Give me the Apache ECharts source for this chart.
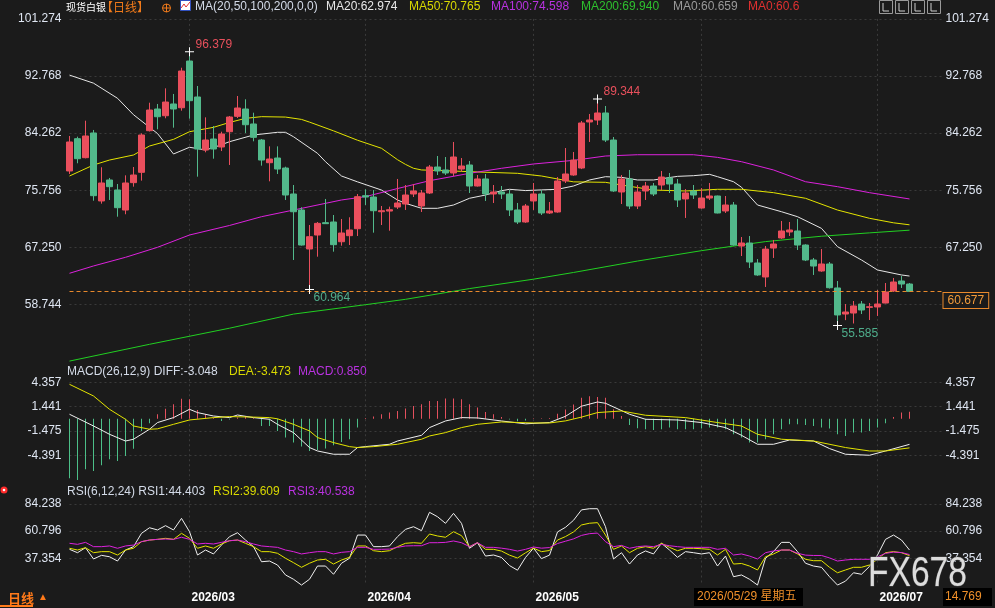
<!DOCTYPE html>
<html>
<head>
<meta charset="utf-8">
<style>
  html, body { margin: 0; padding: 0; background: #1b1b1b; }
  #chart { width: 995px; height: 608px; }
</style>
<script src="https://cdn.jsdelivr.net/npm/echarts@6/dist/echarts.min.js"></script>
</head>
<body>
<div id="chart"></div>
<script>
// candles: [open, close, low, high]
var candles = [
  [78.62, 82.94, 78.17, 83.83], [83.43, 80.45, 79.77, 83.73], [80.60, 83.83, 80.50, 86.11], [84.28, 74.94, 74.19, 84.73],
  [74.15, 76.83, 73.75, 79.17], [77.28, 76.28, 74.30, 77.58], [75.79, 73.15, 71.81, 76.68], [72.80, 76.83, 72.17, 77.97],
  [76.88, 78.02, 76.28, 79.21], [78.42, 83.98, 77.18, 84.23], [84.62, 87.70, 84.50, 88.79], [87.85, 86.70, 84.83, 88.60],
  [86.85, 88.89, 86.47, 90.93], [88.60, 87.85, 85.07, 90.09], [88.04, 93.51, 87.60, 94.00], [95.00, 89.09, 86.41, 96.379],
  [89.64, 81.89, 77.77, 91.28], [81.74, 83.23, 81.40, 86.61], [83.38, 81.89, 80.45, 85.32], [82.19, 84.13, 81.59, 84.47],
  [84.47, 86.66, 79.51, 86.81], [86.76, 88.00, 86.51, 89.79], [87.85, 85.51, 84.28, 89.30], [85.62, 83.63, 83.04, 87.30],
  [83.23, 80.25, 79.41, 83.38], [79.85, 80.40, 77.08, 82.29], [80.55, 78.91, 78.17, 82.29], [79.06, 75.04, 74.30, 79.26],
  [75.19, 72.55, 65.36, 76.53], [72.81, 67.59, 67.50, 73.21], [67.00, 68.83, 60.964, 70.57], [69.08, 70.82, 65.85, 71.02],
  [70.92, 70.77, 70.72, 74.45], [71.02, 67.64, 66.60, 72.06], [68.08, 69.38, 67.49, 71.47], [68.98, 69.83, 67.59, 71.72],
  [70.02, 74.79, 68.93, 75.19], [74.94, 74.74, 73.55, 75.89], [74.74, 72.70, 69.43, 75.78], [72.55, 72.70, 70.57, 73.40],
  [72.65, 72.85, 69.72, 73.30], [73.25, 73.85, 72.95, 77.43], [73.70, 75.04, 72.81, 76.53], [75.19, 75.64, 74.74, 76.68],
  [73.40, 75.34, 72.51, 75.78], [75.34, 79.21, 75.19, 79.51], [79.21, 78.62, 78.02, 80.85], [78.77, 78.32, 78.02, 80.70],
  [78.32, 80.70, 77.87, 82.94], [78.91, 79.36, 78.47, 80.55], [79.51, 76.38, 75.34, 80.11], [76.38, 77.43, 76.30, 78.02],
  [77.43, 75.19, 74.15, 78.17], [75.19, 75.49, 73.85, 76.53], [75.49, 75.19, 74.45, 76.38], [75.19, 72.81, 71.91, 75.78],
  [72.81, 71.02, 70.72, 73.85], [71.02, 73.40, 70.90, 73.70], [74.15, 75.19, 72.81, 76.83], [75.19, 72.36, 72.06, 75.78],
  [72.36, 72.66, 72.21, 74.00], [72.51, 77.13, 72.40, 77.72], [77.13, 78.17, 76.83, 82.04], [78.02, 80.25, 77.90, 81.45],
  [79.06, 85.77, 78.90, 86.06], [85.92, 86.21, 82.94, 87.11], [86.21, 87.26, 85.47, 89.344], [87.26, 83.23, 82.94, 88.30],
  [83.23, 75.64, 75.50, 83.68], [75.49, 77.43, 73.70, 78.02], [77.43, 73.40, 72.95, 78.77], [73.40, 75.49, 72.95, 76.53],
  [75.64, 76.38, 74.30, 76.98], [76.38, 75.19, 74.89, 76.83], [76.53, 77.72, 75.79, 78.62], [77.58, 76.68, 75.34, 78.32],
  [76.68, 74.30, 73.25, 77.43], [74.45, 75.34, 71.62, 75.93], [75.64, 75.04, 74.45, 76.53], [73.10, 74.59, 73.00, 76.08],
  [74.59, 74.89, 74.30, 76.83], [74.89, 72.36, 72.30, 74.95], [72.66, 73.55, 72.36, 74.89], [73.55, 67.59, 67.50, 74.00],
  [67.44, 67.89, 65.95, 68.78], [67.89, 65.06, 64.17, 68.93], [64.91, 63.13, 63.00, 65.50], [62.83, 66.98, 61.34, 67.44],
  [67.14, 67.74, 65.66, 68.34], [68.64, 69.68, 68.50, 71.17], [69.53, 69.83, 68.93, 71.02], [69.68, 67.59, 66.85, 71.47],
  [67.59, 65.36, 65.20, 67.70], [65.36, 64.46, 63.13, 65.66], [63.72, 64.76, 63.60, 66.99], [64.76, 61.23, 61.10, 65.06],
  [61.19, 57.17, 55.585, 62.23], [57.31, 57.61, 56.40, 58.80], [57.46, 58.51, 55.90, 59.25], [58.80, 57.91, 57.31, 59.25],
  [58.30, 58.40, 56.42, 58.95], [58.36, 58.80, 57.02, 60.89], [58.95, 60.59, 58.90, 61.93], [60.74, 62.08, 60.60, 62.68],
  [62.23, 61.78, 61.19, 62.97], [61.78, 60.68, 60.59, 61.93]
];

// moving averages as [candle index, value]
var ma20 = [[0,92.9],[3,91.7],[6,89.45],[8,87.0],[11,84.2],[13,81.15],[15,82.15],[17,81.75],[18,82.1],[20,82.98],[23,83.98],
  [26,84.38],[27,84.38],[28,83.72],[31,81.25],[32,80.0],[34,77.87],[36,77.0],[39,75.78],[41,74.3],[42,73.8],[44,73.06],
  [46,73.06],[48,73.55],[50,74.55],[52,75.04],[54,75.68],[55,75.89],[57,75.7],[59,75.8],[61,75.89],[63,76.38],[65,77.28],
  [67,77.77],[69,77.67],[71,77.28],[73,77.28],[76,77.82],[78,77.92],[80,78.12],[81,77.77],[83,77.02],[84,76.2],[86,73.55],
  [89,72.55],[91,71.81],[94,70.07],[96,67.34],[99,65.36],[101,63.87],[104,63.13],[105,62.97]];
var ma50 = [[0,77.87],[3,79.51],[5,80.25],[8,81.0],[10,82.34],[13,83.33],[15,84.47],[18,85.12],[20,85.85],[22,86.46],
  [24,86.71],[27,86.65],[29,86.3],[30,85.9],[33,84.6],[36,83.2],[39,82.0],[41,80.3],[42,79.6],[43,79.02],[44,78.77],
  [47,78.66],[51,78.47],[56,78.27],[59,77.87],[61,77.43],[63,77.0],[67,76.93],[69,76.53],[73,75.78],[77,75.64],[81,75.89],
  [84,75.89],[88,75.39],[92,74.55],[96,72.8],[100,71.57],[103,70.9],[105,70.6]];
var ma100 = [[0,63.38],[3,64.47],[7,65.76],[11,67.25],[15,69.08],[20,70.5],[24,71.81],[28,72.8],[32,73.8],[34,74.3],
  [37,74.8],[41,76.0],[45,77.17],[50,78.27],[54,79.02],[58,79.66],[63,80.2],[67,80.85],[71,81.04],[78,81.04],[81,80.65],
  [84,80.0],[88,78.77],[92,77.02],[96,76.28],[100,75.39],[105,74.45]];
var ma200 = [[0,50.3],[10,52.8],[20,55.2],[28,57.3],[37,58.7],[42,59.5],[50,61.1],[58,62.5],[63,63.5],[71,65.2],
  [79,66.75],[84,67.6],[87,68.1],[94,68.9],[100,69.4],[105,69.8]];

// MACD(26,12,9)
var macdHist = [-7.10, -7.30, -6.02, -6.22, -5.55, -4.83, -5.03, -4.43, -3.56, -1.45, -0.54, 0.54, 1.21, 1.73, 2.40, 2.33,
  1.05, 0.54, 0.14, -0.26, -0.10, 0.14, 0.33, 0.10, -0.86, -0.86, -1.45, -2.24, -2.84, -3.32, -3.84, -3.72, -3.55, -3.16,
  -2.77, -2.44, -1.05, 0.10, 0.26, 0.54, 0.74, 0.93, 1.22, 1.53, 1.73, 2.12, 2.12, 2.41, 2.41, 2.33, 1.73, 1.34, 0.81, 0.54,
  0.20, -0.10, -0.30, -0.20, 0.05, 0.05, 0.10, 0.60, 1.10, 1.70, 2.50, 2.70, 2.60, 2.50, 1.13, 0.33, -0.74, -1.13, -1.25,
  -1.33, -1.25, -1.05, -1.25, -1.25, -1.25, -1.15, -1.05, -1.05, -1.25, -1.85, -2.24, -2.84, -2.84, -2.44, -1.85, -1.25,
  -0.66, -0.66, -0.74, -0.86, -1.05, -1.15, -1.85, -2.05, -1.65, -1.65, -1.45, -1.05, -0.54, 0.22, 0.74, 0.85];
var diff = [[0,0.54],[3,-0.86],[5,-1.85],[7,-2.65],[8,-2.44],[10,-1.25],[11,-0.45],[13,0.14],[15,1.13],[16,0.74],[18,0.33],
  [20,0.14],[21,0.45],[23,0.14],[25,-0.06],[26,-0.66],[28,-1.65],[30,-3.43],[31,-3.84],[33,-4.23],[35,-4.23],[36,-3.43],
  [37,-3.32],[40,-3.04],[41,-2.65],[44,-1.97],[45,-1.05],[47,-0.26],[49,0.14],[51,0.1],[54,-0.26],[57,-0.6],[60,-0.45],
  [62,0.3],[64,1.5],[66,2.0],[67,1.85],[70,0.54],[72,-0.06],[76,-0.14],[79,-0.45],[82,-1.05],[84,-1.97],[86,-3.04],
  [88,-3.04],[90,-2.53],[93,-2.65],[95,-3.55],[97,-4.23],[100,-4.35],[102,-3.84],[105,-3.05]];
var dea = [[0,4.11],[3,2.72],[5,1.13],[7,-0.06],[8,-0.86],[10,-1.25],[11,-1.2],[13,-0.66],[15,-0.14],[18,0.14],[20,0.26],
  [23,0.2],[25,0.14],[26,0.0],[28,-0.66],[30,-1.45],[31,-2.24],[33,-2.84],[35,-3.32],[36,-3.43],[38,-3.32],[41,-3.04],
  [44,-2.44],[45,-2.05],[47,-1.65],[49,-1.05],[51,-0.66],[54,-0.38],[58,-0.5],[60,-0.5],[62,-0.25],[64,0.2],[66,0.74],
  [69,0.93],[72,0.42],[77,0.14],[81,-0.45],[84,-0.86],[86,-1.85],[89,-2.44],[93,-2.65],[97,-3.43],[100,-3.84],
  [102,-3.84],[105,-3.47]];

// RSI(6,12,24)
var rsi1 = [45.0, 42.1, 46.4, 36.7, 39.8, 38.6, 34.9, 44.4, 47.3, 58.8, 63.6, 61.7, 65.4, 61.7, 71.7, 60.2, 40.1, 44.4,
  41.0, 48.7, 55.9, 59.3, 53.0, 47.3, 34.3, 34.9, 31.5, 22.9, 19.2, 14.2, 19.2, 30.6, 30.6, 23.5, 33.0, 37.3, 57.3, 57.3,
  47.3, 47.3, 47.9, 55.9, 62.2, 64.5, 61.1, 76.9, 73.1, 67.4, 76.0, 67.4, 45.9, 50.7, 39.2, 40.1, 38.0, 31.0, 27.0, 38.0,
  46.0, 37.0, 40.0, 60.0, 64.0, 70.0, 79.0, 80.0, 80.0, 64.5, 36.7, 42.1, 32.3, 40.1, 43.6, 41.0, 50.2, 44.4, 38.1, 43.0,
  42.1, 41.0, 42.1, 30.6, 39.2, 21.4, 22.9, 19.2, 14.2, 37.3, 43.0, 51.0, 51.0, 43.0, 33.0, 30.6, 29.5, 21.4, 14.2, 17.6,
  24.8, 23.5, 30.3, 40.1, 53.6, 57.3, 53.0, 44.4];
var rsi2 = [45.9, 44.4, 46.4, 42.1, 43.0, 43.0, 40.1, 44.4, 45.9, 51.6, 53.0, 53.6, 54.5, 53.6, 58.8, 54.5, 45.9, 47.9,
  45.9, 49.6, 52.4, 53.0, 50.2, 47.3, 43.0, 43.0, 41.6, 37.3, 33.5, 29.5, 33.0, 35.8, 36.4, 32.3, 35.8, 38.1, 47.9, 47.9,
  43.8, 43.0, 43.8, 47.3, 50.2, 50.7, 50.2, 58.2, 56.5, 55.4, 60.2, 56.8, 47.3, 50.7, 45.0, 45.0, 43.5, 40.0, 37.5, 42.0,
  46.0, 43.0, 44.0, 53.0, 56.0, 60.0, 66.0, 67.5, 68.0, 57.3, 45.0, 47.9, 42.1, 45.9, 47.3, 45.9, 50.2, 46.7, 43.8, 45.9,
  45.9, 45.5, 45.0, 40.1, 45.0, 32.3, 32.8, 30.6, 27.2, 38.6, 41.0, 44.4, 44.4, 41.0, 36.4, 35.2, 35.2, 29.5, 24.8, 27.2,
  29.5, 29.5, 31.5, 36.4, 42.1, 43.0, 42.1, 39.6];
var rsi3 = [50.2, 49.3, 51.0, 47.3, 47.3, 47.9, 45.9, 47.9, 48.7, 51.6, 53.0, 53.6, 53.9, 53.6, 55.4, 53.6, 49.6, 50.2,
  49.6, 51.0, 52.4, 53.0, 51.6, 49.6, 47.9, 47.3, 46.7, 44.4, 43.0, 41.0, 42.1, 43.0, 43.0, 41.0, 42.4, 43.0, 46.7, 46.7,
  45.0, 45.0, 45.2, 46.7, 47.9, 48.1, 48.1, 50.7, 50.7, 51.0, 52.2, 50.7, 47.3, 50.7, 46.7, 46.7, 46.0, 45.0, 43.5, 45.0,
  47.0, 46.0, 46.5, 50.0, 52.0, 54.0, 57.0, 58.5, 59.0, 51.6, 47.3, 48.4, 45.9, 47.3, 47.9, 47.3, 49.3, 48.1, 47.3, 46.7,
  46.7, 46.7, 46.7, 45.0, 45.9, 40.1, 41.0, 39.2, 36.7, 42.1, 43.6, 44.4, 44.4, 41.6, 40.0, 39.7, 39.7, 37.6, 34.9, 35.8,
  36.4, 36.4, 36.4, 38.5, 41.5, 42.6, 42.2, 40.5];

var priceTicks = { min: 50.238, max: 101.274, step: 8.506 };
var macdTicks = { min: -7.307, max: 6.5, step: 2.916 };
var rsiTicks = { min: 13.912, max: 100, step: 23.442 };
var lastPrice = 60.677;
var highs = [[15, 96.379], [66, 89.344]];
var lows = [[30, 60.964], [96, 55.585]];

// trading days: weekdays from 2026/02/09, Good Friday closed, 110 slots (4 empty at the end)
var dates = [];
(function () {
  function pad(n) { return n < 10 ? '0' + n : '' + n; }
  var d = new Date(Date.UTC(2026, 1, 9));
  while (dates.length < 110) {
    var wd = d.getUTCDay();
    var s = d.getUTCFullYear() + '/' + pad(d.getUTCMonth() + 1) + '/' + pad(d.getUTCDate());
    if (wd !== 0 && wd !== 6 && s !== '2026/04/03') dates.push(s);
    d.setUTCDate(d.getUTCDate() + 1);
  }
})();

(function() {
  var red = '#ea4f5d', green = '#52b98b';
  var ink = '#dfe6f2', gridc = '#3a3a3a';
  var font = 'Arial, "Liberation Sans", sans-serif';
  var GL = 69.5, GR = 995 - (69.5 + 109 * 8);

  function monthStart(i) { return i > 0 && dates[i].slice(5, 7) !== dates[i - 1].slice(5, 7); }
  function fmt(v) { return v.toFixed(3); }

  function xAx(idx, showLabel) {
    return {
      type: 'category', gridIndex: idx, data: dates, boundaryGap: false,
      axisLine: { show: false }, axisTick: { show: false },
      axisLabel: showLabel ? {
        show: true, interval: function(i) { return monthStart(i); },
        formatter: function(v) { return v.slice(0, 7); },
        color: '#ffffff', fontWeight: 'bold', fontSize: 12, fontFamily: font, align: 'left', margin: 6, padding: [0, 0, 0, 2]
      } : { show: false },
      splitLine: { show: true, interval: function(i) { return monthStart(i); },
        lineStyle: { color: gridc, type: [2, 3] } }
    };
  }
  function yAx(idx, t, pos, split) {
    return {
      type: 'value', gridIndex: idx, position: pos, min: t.min, max: t.max, interval: t.step,
      axisLine: { show: false }, axisTick: { show: false },
      axisLabel: { color: ink, fontSize: 12, fontFamily: font, formatter: fmt, margin: pos === 'left' ? 8 : 4,
        showMinLabel: false, showMaxLabel: t === priceTicks },
      splitLine: split ? { show: true, showMinLine: false, showMaxLine: t === priceTicks,
        lineStyle: { color: gridc, type: [2, 3] } } : { show: false }
    };
  }

  function lineS(data, color, xi, yi) {
    return { type: 'line', data: data, xAxisIndex: xi, yAxisIndex: yi, showSymbol: false, symbol: 'none',
      lineStyle: { color: color, width: 1 }, silent: true, z: 3 };
  }

  var plus = 'path://M4,0H5V4H9V5H5V9H4V5H0V4H4Z';
  var marks = highs.map(function(p) {
    return { coord: p, value: p[1], label: { color: '#e8505c', position: [10.5, -8.5] } };
  }).concat(lows.map(function(p) {
    return { coord: p, value: p[1], label: { color: '#4fae8c', position: [8.5, 7] } };
  }));

  function txt(x, y, s, color, size, extra) {
    var st = { text: s, x: x, y: y, fill: color, font: (size || 12) + 'px ' + font, verticalAlign: 'middle' };
    if (extra) for (var k in extra) st[k] = extra[k];
    return { type: 'text', z: 100, style: st };
  }

  var graphics = [
    txt(66, 7, '现货白银', '#ffffff', 10, { font: '10px "Noto Sans CJK SC", sans-serif' }),
    txt(101, 7, '【日线】', '#f07a1a', 12, { font: '12px "Noto Sans CJK SC", sans-serif' }),
    { type: 'circle', z: 100, shape: { cx: 166.5, cy: 8, r: 4 }, style: { fill: 'none', stroke: '#f07a1a', lineWidth: 1 } },
    { type: 'polyline', z: 100, shape: { points: [[162.5, 8], [170.5, 8]] }, style: { stroke: '#f07a1a', lineWidth: 1 } },
    { type: 'polyline', z: 100, shape: { points: [[166.5, 4], [166.5, 12]] }, style: { stroke: '#f07a1a', lineWidth: 1 } },
    { type: 'rect', z: 100, shape: { x: 180.5, y: 0.5, width: 10, height: 10 }, style: { fill: '#ffffff', stroke: '#3050c0' } },
    { type: 'polyline', z: 101, shape: { points: [[181, 8], [184, 4], [186, 7], [190, 2]] }, style: { stroke: '#e03030', fill: 'none' } },
    txt(195, 7, 'MA(20,50,100,200,0,0)', '#d4dbe8'),
    txt(326, 7, 'MA20:62.974', '#e8e8e8'),
    txt(409, 7, 'MA50:70.765', '#d8d800'),
    txt(491, 7, 'MA100:74.598', '#b932e0'),
    txt(581, 7, 'MA200:69.940', '#2ec02e'),
    txt(673, 7, 'MA0:60.659', '#9a9a9a'),
    txt(748, 7, 'MA0:60.6', '#e03030'),
    txt(67, 372, 'MACD(26,12,9) DIFF:-3.048', '#d4dbe8'),
    txt(229, 372, 'DEA:-3.473', '#d8d800'),
    txt(298, 372, 'MACD:0.850', '#b932e0'),
    txt(67, 492, 'RSI(6,12,24) RSI1:44.403', '#d4dbe8'),
    txt(213, 492, 'RSI2:39.609', '#d8d800'),
    txt(288, 492, 'RSI3:40.538', '#b932e0'),
    { type: 'circle', z: 100, shape: { cx: 4, cy: 490, r: 3.5 }, style: { fill: '#ff2a2a' } },
    { type: 'circle', z: 101, shape: { cx: 4, cy: 490, r: 1.3 }, style: { fill: '#ffffff' } },
    txt(8, 598, '日线', '#ff7a1a', 13, { font: 'bold 13px "Noto Sans CJK SC", sans-serif' }),
    txt(38, 597, '▲', '#ff7a1a', 10),
    { type: 'rect', z: 100, shape: { x: 0, y: 605, width: 33, height: 2 }, style: { fill: '#ff7a1a' } },
    { type: 'rect', z: 100, shape: { x: 694, y: 588, width: 109, height: 18 }, style: { fill: '#000000' } },
    txt(697, 597, '2026/05/29 星期五', '#f0902a', 12, { font: '12px Arial, "Noto Sans CJK SC", sans-serif' }),
    { type: 'rect', z: 100, shape: { x: 943, y: 588, width: 49, height: 18 }, style: { fill: '#000000' } },
    txt(945, 597, '14.769', '#f0902a', 12),
    { type: 'text', z: 100, x: 868, y: 574, scaleX: 0.8,
      style: { text: 'FX678', x: 0, y: 0, fill: '#dcdcdc', verticalAlign: 'middle',
        font: '42px Arial, "Liberation Sans", sans-serif', stroke: '#4a4a4a', lineWidth: 1 } }
  ];
  [879, 895, 911, 927].forEach(function(x) {
    graphics.push({ type: 'rect', z: 100, shape: { x: x + 0.5, y: 0.5, width: 13, height: 13 },
      style: { fill: 'none', stroke: '#9a9a9a', lineWidth: 1 } });
    graphics.push({ type: 'polyline', z: 100, shape: { points: [[x + 4, 3], [x + 4, 11], [x + 10, 11]] },
      style: { fill: 'none', stroke: '#cfcfcf', lineWidth: 1 } });
  });

  var chart = echarts.init(document.getElementById('chart'), null, { renderer: 'canvas' });
  chart.setOption({
    animation: false,
    backgroundColor: '#1b1b1b',
    grid: [
      { left: GL, right: GR, top: 18.9, height: 342.6 },
      { left: GL, right: GR, top: 364.28, height: 115.77 },
      { left: GL, right: GR, top: 485.52, height: 99.87 }
    ],
    xAxis: [xAx(0, false), xAx(1, false), xAx(2, true)],
    yAxis: [
      yAx(0, priceTicks, 'right', true), yAx(0, priceTicks, 'left', false),
      yAx(1, macdTicks, 'right', true), yAx(1, macdTicks, 'left', false),
      yAx(2, rsiTicks, 'right', true), yAx(2, rsiTicks, 'left', false)
    ],
    graphic: graphics,
    series: [
      {
        type: 'candlestick', data: candles, xAxisIndex: 0, yAxisIndex: 0, barWidth: 6, clip: false, z: 4,
        itemStyle: { color: red, color0: green, borderColor: red, borderColor0: green, borderWidth: 1 },
        markPoint: {
          symbol: plus, symbolSize: 9, itemStyle: { color: '#ffffff' }, silent: true,
          label: { show: true, fontSize: 12, fontFamily: font, formatter: function(p) { return p.value.toFixed(3); } },
          data: marks
        },
        markLine: {
          silent: true, symbol: 'none',
          lineStyle: { color: '#e8892c', type: [4, 3], width: 1 },
          label: { show: true, position: 'end', distance: 2, offset: [0, 9], formatter: lastPrice.toFixed(3),
            color: '#f09a3a', fontSize: 12, fontFamily: font, backgroundColor: '#1b1b1b',
            borderColor: '#e8892c', borderWidth: 1, padding: [2, 4, 1, 4] },
          data: [{ yAxis: lastPrice }]
        }
      },
      lineS(ma20, '#e6e6e6', 0, 0),
      lineS(ma50, '#e4e400', 0, 0),
      lineS(ma100, '#dd22dd', 0, 0),
      lineS(ma200, '#22d022', 0, 0),
      {
        type: 'bar', data: macdHist, xAxisIndex: 1, yAxisIndex: 2, barWidth: 1, silent: true,
        itemStyle: { color: function(p) { return p.value >= 0 ? '#e4505e' : '#4cbf88'; } }
      },
      lineS(diff, '#f0f0f0', 1, 2),
      lineS(dea, '#e4e400', 1, 2),
      lineS(rsi1.map(function(v, i) { return [i, v]; }), '#f0f0f0', 2, 4),
      lineS(rsi2.map(function(v, i) { return [i, v]; }), '#e4e400', 2, 4),
      lineS(rsi3.map(function(v, i) { return [i, v]; }), '#dd22dd', 2, 4)
    ]
  });
  window.addEventListener('resize', function() { chart.resize(); });
})();
</script>
</body>
</html>
